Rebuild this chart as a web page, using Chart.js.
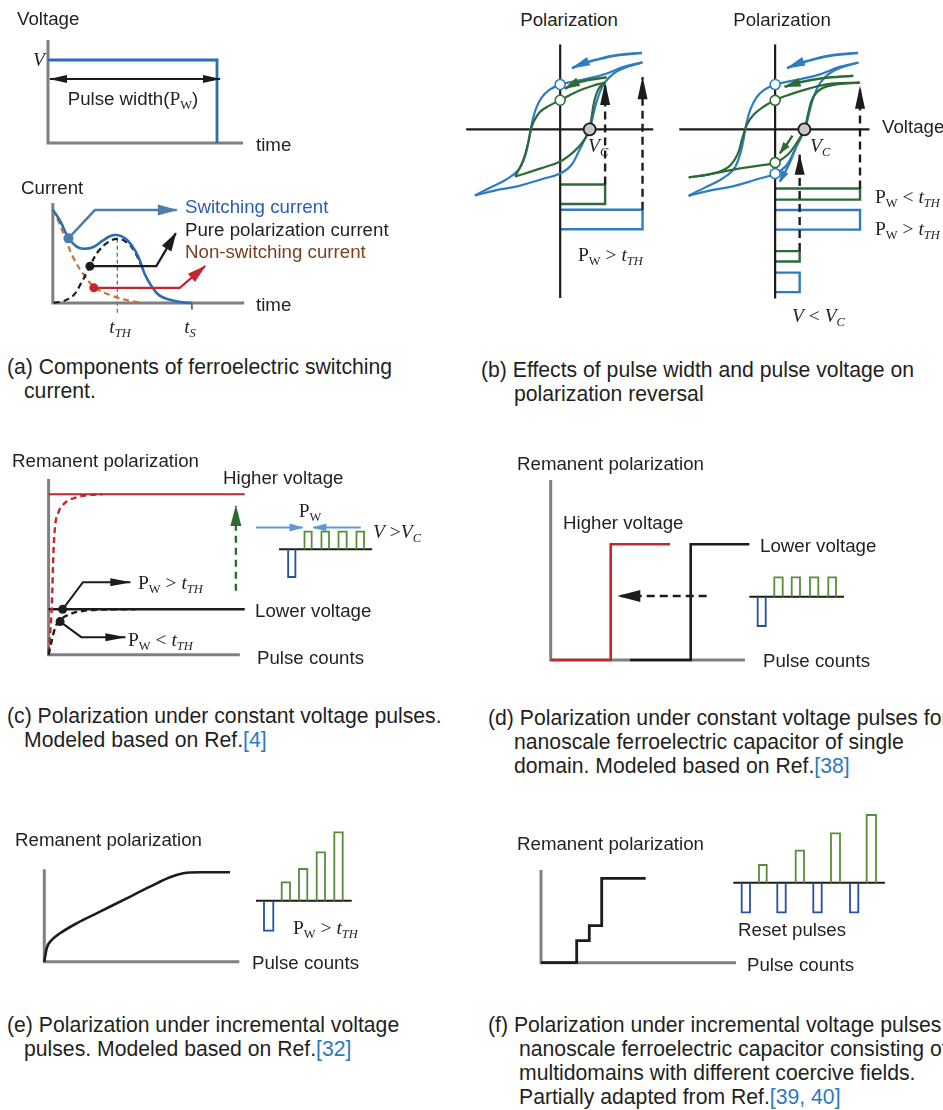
<!DOCTYPE html>
<html>
<head>
<meta charset="utf-8">
<title>Ferroelectric switching under voltage pulses</title>
<script src="https://cdn.jsdelivr.net/npm/chart.js@4.4.1/dist/chart.umd.min.js"></script>
<style>
  html, body { margin: 0; padding: 0; background: #fff; }
  #page { position: relative; width: 943px; height: 1110px; overflow: hidden;
          font-family: "Liberation Sans", Arial, sans-serif; color: #231f20; }
  #page canvas { position: absolute; }
  .t { position: absolute; white-space: nowrap; font-size: 18.7px; line-height: 1; transform: translateY(-50%); }
  .c { transform: translate(-50%, -50%); }
  .s { font-family: "Liberation Serif", "Times New Roman", serif; font-size: 19.5px; }
  .t sub { font-size: 0.64em; vertical-align: -0.32em; line-height: 0; }
  .cap { font-size: 21.2px; }
  .ref { color: #2f78c0; }
  .blue { color: #2a5db0; }
  .brown { color: #7b3f1d; }
</style>
</head>
<body>
<div id="page">
  <div id="plots"></div>

  <!-- (a) voltage pulse -->
  <div class="t" style="left:17px;top:19px">Voltage</div>
  <div class="t s" style="left:33px;top:60px"><i>V</i></div>
  <div class="t c" style="left:133px;top:99px">Pulse width(<span class="s">P<sub>W</sub></span>)</div>
  <div class="t" style="left:256px;top:145px">time</div>

  <!-- (a) current components -->
  <div class="t" style="left:21px;top:188px">Current</div>
  <div class="t blue" style="left:185px;top:207px">Switching current</div>
  <div class="t" style="left:185px;top:230px">Pure polarization current</div>
  <div class="t brown" style="left:185px;top:252px">Non-switching current</div>
  <div class="t" style="left:256px;top:305px">time</div>
  <div class="t s c" style="left:120px;top:327px"><i>t</i><sub><i>TH</i></sub></div>
  <div class="t s c" style="left:190px;top:327px"><i>t</i><sub><i>S</i></sub></div>

  <!-- (b) hysteresis loops -->
  <div class="t c" style="left:569px;top:20px">Polarization</div>
  <div class="t c" style="left:782px;top:20px">Polarization</div>
  <div class="t s" style="left:588px;top:146px"><i>V</i><sub><i>C</i></sub></div>
  <div class="t s" style="left:810px;top:146px"><i>V</i><sub><i>C</i></sub></div>
  <div class="t s" style="left:578px;top:255px">P<sub>W</sub> &gt; <i>t</i><sub><i>TH</i></sub></div>
  <div class="t s" style="left:875px;top:197px">P<sub>W</sub> &lt; <i>t</i><sub><i>TH</i></sub></div>
  <div class="t s" style="left:875px;top:229px">P<sub>W</sub> &gt; <i>t</i><sub><i>TH</i></sub></div>
  <div class="t s" style="left:792px;top:316px"><i>V</i> &lt; <i>V</i><sub><i>C</i></sub></div>
  <div class="t" style="left:882px;top:127px">Voltage</div>

  <!-- (c) -->
  <div class="t" style="left:12px;top:461px">Remanent polarization</div>
  <div class="t" style="left:223px;top:478px">Higher voltage</div>
  <div class="t" style="left:255px;top:611px">Lower voltage</div>
  <div class="t" style="left:257px;top:658px">Pulse counts</div>
  <div class="t s" style="left:138px;top:583px">P<sub>W</sub> &gt; <i>t</i><sub><i>TH</i></sub></div>
  <div class="t s" style="left:128px;top:640px">P<sub>W</sub> &lt; <i>t</i><sub><i>TH</i></sub></div>
  <div class="t s c" style="left:310px;top:511px">P<sub>W</sub></div>
  <div class="t s" style="left:373px;top:532px"><i>V</i> &gt;<i>V</i><sub><i>C</i></sub></div>

  <!-- (d) -->
  <div class="t" style="left:517px;top:464px">Remanent polarization</div>
  <div class="t" style="left:563px;top:523px">Higher voltage</div>
  <div class="t" style="left:760px;top:546px">Lower voltage</div>
  <div class="t" style="left:763px;top:661px">Pulse counts</div>

  <!-- (e) -->
  <div class="t" style="left:15px;top:840px">Remanent polarization</div>
  <div class="t s" style="left:293px;top:928px">P<sub>W</sub> &gt; <i>t</i><sub><i>TH</i></sub></div>
  <div class="t" style="left:252px;top:963px">Pulse counts</div>

  <!-- (f) -->
  <div class="t" style="left:517px;top:844px">Remanent polarization</div>
  <div class="t" style="left:738px;top:930px">Reset pulses</div>
  <div class="t" style="left:747px;top:965px">Pulse counts</div>

  <!-- captions -->
  <div class="t cap" style="left:7px;top:367px">(a) Components of ferroelectric switching</div>
  <div class="t cap" style="left:24px;top:391px">current.</div>
  <div class="t cap" style="left:481px;top:370px">(b) Effects of pulse width and pulse voltage on</div>
  <div class="t cap" style="left:514px;top:394px">polarization reversal</div>
  <div class="t cap" style="left:7px;top:716px">(c) Polarization under constant voltage pulses.</div>
  <div class="t cap" style="left:24px;top:740px">Modeled based on Ref.<span class="ref">[4]</span></div>
  <div class="t cap" style="left:488px;top:718px">(d) Polarization under constant voltage pulses for</div>
  <div class="t cap" style="left:514px;top:742px">nanoscale ferroelectric capacitor of single</div>
  <div class="t cap" style="left:514px;top:766px">domain. Modeled based on Ref.<span class="ref">[38]</span></div>
  <div class="t cap" style="left:7px;top:1025px">(e) Polarization under incremental voltage</div>
  <div class="t cap" style="left:24px;top:1049px">pulses. Modeled based on Ref.<span class="ref">[32]</span></div>
  <div class="t cap" style="left:488px;top:1025px">(f) Polarization under incremental voltage pulses for</div>
  <div class="t cap" style="left:519px;top:1049px">nanoscale ferroelectric capacitor consisting of</div>
  <div class="t cap" style="left:519px;top:1073px">multidomains with different coercive fields.</div>
  <div class="t cap" style="left:519px;top:1097px">Partially adapted from Ref.<span class="ref">[39, 40]</span></div>
</div>

<script>
// ---------------- data (arbitrary units, 1 unit = 10 px on every panel) ----------------

// (a) applied voltage pulse
const pulseTime = [0, 16.9, 16.9];
const pulseVolt = [8.3, 8.3, 0];
const widthArrowT = [0.2, 17.2];
const widthArrowV = [6.4, 6.4];

// (a) current components vs time
const swT  = [0, 0.8, 1.6, 2.4, 3.1, 4.1, 5.1, 5.9, 6.6, 7.4, 8.1, 8.8, 9.4, 10.1, 10.9, 12.1, 13.4, 14.3];
const swI  = [9.9, 8.6, 6.9, 6.0, 5.75, 5.9, 6.6, 7.1, 7.2, 6.85, 6.1, 4.8, 3.1, 1.8, 0.8, 0.3, 0.05, 0];
const polT = [0.1, 1.1, 2.1, 2.9, 3.8, 4.6, 5.6, 6.6, 7.6, 8.4, 9.1];
const polI = [0.03, 0.2, 0.8, 2.1, 3.9, 5.4, 6.4, 6.8, 6.4, 5.4, 3.9];
const nsT  = [0, 0.6, 1.3, 2.1, 3.1, 4.3, 6.1, 7.8, 9.1];
const nsI  = [9.9, 8.6, 6.8, 4.8, 3.1, 1.65, 0.75, 0.25, 0.03];
const swTagT  = [1.6, 4.3, 12.7],  swTagI  = [6.85, 9.85, 9.85];
const polTagT = [3.8, 10.6, 12.6], polTagI = [3.9, 3.9, 7.4];
const nsTagT  = [4.2, 13.0, 15.6], nsTagI  = [1.6, 1.6, 3.9];
const tTH = [6.6, 6.6], tTHLevel = [6.8, -1.2];
const tS  = [14.25, 14.25], tSLevel = [0, -0.7];

// (b) hysteresis loops (voltage, polarization)
const majUpV = [8.83, 6.83, 4.83, 2.83, 0.83, 0, -1.17, -2.0, -2.67, -3.1, -3.4, -3.83, -4.5, -5.83, -7.5, -9.17];
const majUpP = [7.07, 6.6, 5.84, 5.34, 4.94, 4.74, 4.17, 3.34, 2.0, 0.34, -1.33, -3.0, -4.33, -5.33, -6.16, -7.0];
const majLoV = [-9.17, -7.17, -4.5, -2.17, 0, 1.17, 2.0, 2.67, 3.17, 3.67, 4.17, 4.83, 6.17, 8.83];
const majLoP = [-7.0, -6.5, -6.0, -5.33, -4.66, -3.83, -2.33, -1.0, 0.0, 2.0, 3.67, 5.0, 6.17, 7.07];
const minUpV = [4.83, 3.5, 1.83, 0, -1.17, -2.17, -2.83, -3.17, -3.5, -4.0, -4.83];
const minUpP = [4.94, 4.6, 4.0, 3.07, 2.5, 1.84, 0.84, -0.16, -1.66, -3.33, -5.0];
const minLoV = [-4.83, -2.17, 0, 1.5, 2.67, 3.1, 3.33, 3.67, 4.17, 4.83];
const minLoP = [-5.0, -4.16, -3.4, -2.33, -1.0, 0, 1.0, 3.0, 4.34, 4.94];
const subUpV = [9.0, 6.0, 3.67, 1.0, 0, -1.33, -2.33, -3.0, -3.5, -4.0, -5.0, -6.66, -9.16];
const subUpP = [4.94, 4.84, 4.34, 3.5, 3.07, 2.34, 1.5, 0.5, -1.0, -2.66, -4.0, -4.66, -5.06];
const subLoV = [-9.16, -7.0, -4.0, -1.33, 0, 1.34, 2.34, 3.1, 3.5, 4.0, 5.0, 6.67, 9.0];
const subLoP = [-5.06, -4.73, -4.16, -3.76, -3.5, -2.66, -1.33, 0, 1.67, 3.34, 4.34, 4.77, 4.94];
const sweepBackV = [8.8, 6.17, 3.83, 2.17, 1.27], sweepBackP = [8.07, 7.84, 7.34, 6.84, 6.47];
const minBackV = [5.0, 3.0, 1.5, 0.5], minBackP = [5.5, 5.2, 4.8, 4.3];
const subBackV = [8.3, 5.0, 2.5, 1.0], subBackP = [5.67, 5.4, 4.95, 4.5];
const dropGV = [1.84, 1.27, 0.5], dropGP = [-0.66, -1.5, -2.5];
const dropBV = [2.17, 1.4, 0.5], dropBP = [-2.0, -3.83, -5.5];
const coerciveLeft = 3.17, coerciveRight = 3.1;
// applied pulses drawn on the polarization axis (voltage amplitude, band top, band bottom)
const bLeftAmp  = [4.83, 8.85],  bLeftTop  = [-5.83, -8.5],  bLeftBot  = [-7.9, -10.56];
const bLeftTip  = [4.9, 5.5];
const bRightAmp = [9.0, 9.0, 2.6, 2.6], bRightTop = [-6.23, -8.5, -12.83, -15.1], bRightBot = [-7.4, -10.56, -13.93, -17.16];
const bRightTip = [4.5, -2.66];

// (c) constant voltage pulses
const hiRiseN = [0, 0.33, 0.5, 0.67, 1.0, 1.67, 2.83, 4.17, 5.5];
const hiRiseP = [0.16, 5.16, 10.83, 13.5, 14.83, 15.83, 16.4, 16.66, 16.73];
const loRiseN = [0, 0.33, 0.67, 1.17, 2.17, 3.5, 5.5, 8.83];
const loRiseP = [0, 1.5, 2.83, 3.6, 4.23, 4.56, 4.7, 4.73];
const satN = [0, 20.0], satHiP = [16.73, 16.73], satLoP = [4.73, 4.73];
const cDotN = [1.43, 1.17], cDotP = [4.73, 3.45];
const tagHiN = [1.43, 3.5, 8.33], tagHiP = [4.73, 7.56, 7.56];
const tagLoN = [1.17, 3.33, 7.83], tagLoP = [3.45, 1.83, 1.83];
const raiseN = [19.1, 19.1], raiseP = [6.66, 15.5];
const cBaseN = [23.5, 33.0], cBaseLevel = 11.0;
const cResetL = [24.43], cResetR = [25.17], cResetLow = 8.1;
const cPulseL = [26.1, 27.83, 29.57, 31.4], cPulseR = [26.83, 28.6, 30.4, 32.17], cPulseTop = 12.83;
const pwLeftN = [21.17, 25.9], pwRightN = [31.83, 27.0], pwLevel = [13.26, 13.26];

// (d) single-domain capacitor
const hiStepN = [0, 6.0, 6.0, 11.93],   hiStepP = [0, 0, 11.57, 11.57];
const loStepN = [7.93, 14.0, 14.0, 19.86], loStepP = [0, 0, 11.57, 11.57];
const shiftN = [15.6, 6.76], shiftP = [6.4, 6.4];
const dBaseN = [19.86, 29.33], dBaseLevel = 6.33;
const dResetL = [20.7], dResetR = [21.5], dResetLow = 3.4;
const dPulseL = [22.36, 24.1, 25.93, 27.76], dPulseR = [23.2, 24.93, 26.76, 28.53], dPulseTop = 8.27;

// (e) incremental pulses, gradual response
const gradN = [0, 0.24, 0.74, 1.57, 3.24, 5.57, 8.24, 10.57, 12.57, 13.9, 15.57, 18.57];
const gradP = [0, 1.34, 2.17, 2.84, 3.84, 5.0, 6.34, 7.5, 8.44, 8.84, 8.94, 8.94];
const eBaseN = [21.17, 30.74], eBaseLevel = 6.1;
const eResetL = [21.97], eResetR = [22.9], eResetLow = 3.1;
const ePulseL = [23.74, 25.47, 27.24, 29.0], ePulseR = [24.57, 26.3, 28.07, 29.84];
const ePulseTop = [7.94, 9.27, 10.94, 12.94];

// (f) multidomain capacitor, stepwise response
const multiN = [0, 3.57, 3.57, 4.83, 4.83, 6.07, 6.07, 10.47];
const multiP = [0, 0, 2.2, 2.2, 3.7, 3.7, 8.44, 8.44];
const fBaseN = [19.23, 34.4], fBaseLevel = 8.0;
const fResetL = [20.07, 23.63, 27.23, 30.9], fResetR = [20.9, 24.47, 28.07, 31.73], fResetLow = 5.04;
const fPulseL = [21.8, 25.47, 29.0, 32.57], fPulseR = [22.57, 26.3, 29.9, 33.5];
const fPulseTop = [9.77, 11.2, 12.94, 14.77];

// axis lengths of each panel [x extent, y extent]
const axisA1 = [19.5, 10.3], axisA2 = [19.6, 10.6], axisC = [19.5, 18.33];
const axisD = [19.43, 18.0], axisE = [19.5, 9.24], axisF = [19.5, 9.27];
const bAxisV = [-10.1, 10.0], bAxisV2 = [-10.16, 10.0], bAxisP = [-17.83, 8.97];

// ---------------- styling ----------------
const PX = 10;
const GRAY = '#808080', INK = '#1c1c1c', LOOP_BLUE = '#2f7cc2', LOOP_GREEN = '#2c6b36';
const PULSE_BLUE = '#2a6db3', RED = '#c1272d', ORANGE = '#d0702f', STEEL = '#4b7ea8';
const TRAIN_GREEN = '#5a8c39', TRAIN_BLUE = '#2450a6', LIGHT_BLUE = '#5b9bd5', DARK_GREEN = '#2e6b30';

function pts(xs, ys) { return xs.map((x, i) => ({ x: x, y: ys[i] })); }
function path(xs, ys, color, width, opt) {
  return Object.assign({
    data: pts(xs, ys), showLine: true, borderColor: color, backgroundColor: color,
    borderWidth: width, pointRadius: 0, pointHoverRadius: 0, tension: 0, fill: false,
    clip: false, borderCapStyle: 'butt', borderJoinStyle: 'miter'
  }, opt || {});
}
function smooth(xs, ys, color, width, opt) { return path(xs, ys, color, width, Object.assign({ tension: 0.4 }, opt || {})); }
function mono(xs, ys, color, width, opt) { return path(xs, ys, color, width, Object.assign({ cubicInterpolationMode: 'monotone' }, opt || {})); }
function marks(xs, ys, r, fill, stroke, bw) {
  return { data: pts(xs, ys), showLine: false, pointRadius: r, pointHoverRadius: r,
           pointBackgroundColor: fill, pointBorderColor: stroke, pointBorderWidth: bw, clip: false };
}
function axesL(len) { return path([0, 0, len[0]], [len[1], 0, 0], GRAY, 3); }
// rectangular pulses: one open polyline per pulse, starting and ending on the base level
function pulses(L, R, base, level, color, width) {
  return L.map((l, i) => {
    const v = Array.isArray(level) ? level[i] : level;
    return path([l, l, R[i], R[i]], [base, v, v, base], color, width);
  });
}
// pulse bands hanging from the polarization axis in (b)
function bands(amp, top, bot, colors) {
  return amp.map((a, i) => path([0, a, a, 0], [top[i], top[i], bot[i], bot[i]], colors[i], 2.4));
}

// arrowheads drawn at the end (and optionally the start) of a dataset's path
const arrowheads = {
  id: 'arrowheads',
  afterDatasetDraw(chart, args) {
    const ds = chart.data.datasets[args.index];
    if (!ds.head) return;
    const p = args.meta.data, n = p.length, ctx = chart.ctx, h = ds.head;
    const tri = (tip, from) => {
      let dx = tip.x - from.x, dy = tip.y - from.y;
      const L = Math.hypot(dx, dy) || 1; dx /= L; dy /= L;
      const bx = tip.x - dx * h.len, by = tip.y - dy * h.len;
      const nx = -dy * h.w / 2, ny = dx * h.w / 2;
      ctx.beginPath(); ctx.moveTo(tip.x + dx, tip.y + dy);
      ctx.lineTo(bx + nx, by + ny); ctx.lineTo(bx - nx, by - ny); ctx.closePath(); ctx.fill();
    };
    ctx.save();
    ctx.fillStyle = h.color || ds.borderColor;
    if (h.end !== false) tri(p[n - 1], p[n - 2]);
    if (h.start) tri(p[0], p[1]);
    ctx.restore();
  }
};

function panel(box, origin, layers) {
  const cv = document.createElement('canvas');
  cv.width = box[2]; cv.height = box[3];
  cv.style.left = box[0] + 'px'; cv.style.top = box[1] + 'px';
  cv.style.width = box[2] + 'px'; cv.style.height = box[3] + 'px';
  document.getElementById('plots').appendChild(cv);
  layers.forEach((d, i) => { d.order = -i; });
  return new Chart(cv, {
    type: 'scatter',
    data: { datasets: layers },
    options: {
      responsive: false, animation: false, devicePixelRatio: 1, events: [],
      layout: { padding: 0 },
      plugins: { legend: { display: false }, tooltip: { enabled: false }, title: { display: false } },
      scales: {
        x: { type: 'linear', display: false, bounds: 'data',
             min: (box[0] - origin[0]) / PX, max: (box[0] + box[2] - origin[0]) / PX },
        y: { type: 'linear', display: false, bounds: 'data',
             min: (origin[1] - box[1] - box[3]) / PX, max: (origin[1] - box[1]) / PX }
      }
    },
    plugins: [arrowheads]
  });
}

// ---------------- panels ----------------

// (a) voltage pulse
panel([0, 0, 300, 160], [48, 143], [
  axesL(axisA1),
  path(pulseTime, pulseVolt, PULSE_BLUE, 2.8),
  path(widthArrowT, widthArrowV, INK, 2.2, { head: { len: 17, w: 8, start: true } })
]);

// (a) current components
panel([0, 165, 420, 175], [49, 306], [
  path(tTH, tTHLevel, DARK_GREEN, 1.1, { borderDash: [4, 3] }),
  path(tS, tSLevel, INK, 1.2),
  axesL(axisA2),
  smooth(nsT, nsI, ORANGE, 2.2, { borderDash: [6, 4] }),
  smooth(polT, polI, INK, 2.2, { borderDash: [6, 4] }),
  smooth(swT, swI, PULSE_BLUE, 2.6),
  path(swTagT, swTagI, STEEL, 2.4, { head: { len: 19, w: 11 } }),
  path(polTagT, polTagI, INK, 2.2, { head: { len: 18, w: 11 } }),
  path(nsTagT, nsTagI, RED, 2.2, { head: { len: 18, w: 11 } }),
  marks([swTagT[0]], [swTagI[0]], 5, STEEL, STEEL, 0),
  marks([polTagT[0]], [polTagI[0]], 4.5, INK, INK, 0),
  marks([nsTagT[0]], [nsTagI[0]], 4.5, RED, RED, 0)
]);

// (b) left: pulse width effect
panel([450, 30, 225, 290], [560, 126.7], [
  ...bands(bLeftAmp, bLeftTop, bLeftBot, [LOOP_GREEN, LOOP_BLUE]),
  path([bLeftAmp[0], bLeftAmp[0]], [bLeftTop[0], bLeftTip[0]], INK, 2.4, { borderDash: [8, 5], head: { len: 22, w: 10 } }),
  path([bLeftAmp[1], bLeftAmp[1]], [bLeftTop[1], bLeftTip[1]], INK, 2.4, { borderDash: [8, 5], head: { len: 22, w: 10 } }),
  path(bAxisV, [0, 0], INK, 2.2),
  path([0, 0], bAxisP, INK, 2.2),
  smooth(majUpV, majUpP, LOOP_BLUE, 2.2),
  smooth(majLoV, majLoP, LOOP_BLUE, 2.2),
  smooth(minUpV, minUpP, LOOP_GREEN, 2.2),
  smooth(minLoV, minLoP, LOOP_GREEN, 2.2),
  smooth(sweepBackV, sweepBackP, LOOP_BLUE, 2.6, { head: { len: 18, w: 9 } }),
  smooth(minBackV, minBackP, LOOP_GREEN, 2.6, { head: { len: 15, w: 9 } }),
  marks([0], [majUpP[5]], 5, '#fff', LOOP_BLUE, 1.6),
  marks([0], [minUpP[3]], 5, '#fff', LOOP_GREEN, 1.6),
  marks([coerciveLeft], [0], 6, '#c8c8c8', INK, 1.8)
]);

// (b) right: pulse voltage effect
panel([668, 30, 275, 300], [773.3, 126.7], [
  ...bands(bRightAmp, bRightTop, bRightBot, [LOOP_GREEN, LOOP_BLUE, LOOP_GREEN, LOOP_BLUE]),
  path([bRightAmp[0], bRightAmp[0]], [bRightTop[0], bRightTip[0]], INK, 2.4, { borderDash: [8, 5], head: { len: 22, w: 10 } }),
  path([bRightAmp[2], bRightAmp[2]], [bRightTop[2], bRightTip[1]], INK, 2.4, { borderDash: [8, 5], head: { len: 20, w: 10 } }),
  path(bAxisV2, [0, 0], INK, 2.2),
  path([0, 0], bAxisP, INK, 2.2),
  smooth(majUpV, majUpP, LOOP_BLUE, 2.2),
  smooth(majLoV, majLoP, LOOP_BLUE, 2.2),
  smooth(subUpV, subUpP, LOOP_GREEN, 2.2),
  smooth(subLoV, subLoP, LOOP_GREEN, 2.2),
  smooth(sweepBackV, sweepBackP, LOOP_BLUE, 2.6, { head: { len: 18, w: 9 } }),
  smooth(subBackV, subBackP, LOOP_GREEN, 2.6, { head: { len: 16, w: 9 } }),
  smooth(dropGV, dropGP, LOOP_GREEN, 2.4, { head: { len: 11, w: 8 } }),
  smooth(dropBV, dropBP, LOOP_BLUE, 2.4, { head: { len: 11, w: 8 } }),
  marks([0, 0], [majUpP[5], majLoP[4]], 5, '#fff', LOOP_BLUE, 1.6),
  marks([0, 0], [subUpP[4], subLoP[4]], 5, '#fff', LOOP_GREEN, 1.6),
  marks([coerciveRight], [0], 6, '#c8c8c8', INK, 1.8)
]);

// (c) constant voltage pulses
panel([0, 460, 460, 220], [45, 658.3], [
  axesL(axisC),
  path(satN, satHiP, RED, 2.0),
  path(satN, satLoP, INK, 2.4),
  mono(hiRiseN, hiRiseP, RED, 2.4, { borderDash: [6, 4] }),
  mono(loRiseN, loRiseP, INK, 2.4, { borderDash: [6, 4] }),
  path(tagHiN, tagHiP, INK, 2.0, { head: { len: 20, w: 8 } }),
  path(tagLoN, tagLoP, INK, 2.0, { head: { len: 20, w: 8 } }),
  marks(cDotN, cDotP, 4.5, INK, INK, 0),
  path(raiseN, raiseP, DARK_GREEN, 2.4, { borderDash: [7, 5], head: { len: 20, w: 11 } }),
  path(cBaseN, [cBaseLevel, cBaseLevel], INK, 2.0),
  ...pulses(cResetL, cResetR, cBaseLevel, cResetLow, TRAIN_BLUE, 1.8),
  ...pulses(cPulseL, cPulseR, cBaseLevel, cPulseTop, TRAIN_GREEN, 1.8),
  path(pwLeftN, pwLevel, LIGHT_BLUE, 2.2, { head: { len: 13, w: 8 } }),
  path(pwRightN, pwLevel, LIGHT_BLUE, 2.2, { head: { len: 13, w: 8 } })
]);

// (d) single-domain capacitor
panel([500, 470, 443, 210], [550.7, 660], [
  axesL(axisD),
  path(hiStepN, hiStepP, RED, 2.6),
  path(loStepN, loStepP, INK, 2.6),
  path(shiftN, shiftP, INK, 2.4, { borderDash: [8, 5], head: { len: 22, w: 12 } }),
  path(dBaseN, [dBaseLevel, dBaseLevel], INK, 2.0),
  ...pulses(dResetL, dResetR, dBaseLevel, dResetLow, TRAIN_BLUE, 1.8),
  ...pulses(dPulseL, dPulseR, dBaseLevel, dPulseTop, TRAIN_GREEN, 1.8)
]);

// (e) incremental pulses
panel([0, 820, 460, 160], [44.3, 961.7], [
  axesL(axisE),
  mono(gradN, gradP, INK, 2.6),
  path(eBaseN, [eBaseLevel, eBaseLevel], INK, 2.0),
  ...pulses(eResetL, eResetR, eBaseLevel, eResetLow, TRAIN_BLUE, 1.8),
  ...pulses(ePulseL, ePulseR, eBaseLevel, ePulseTop, TRAIN_GREEN, 1.8)
]);

// (f) multidomain capacitor
panel([500, 800, 443, 180], [541, 962.7], [
  axesL(axisF),
  path(multiN, multiP, INK, 2.8),
  path(fBaseN, [fBaseLevel, fBaseLevel], INK, 2.0),
  ...pulses(fResetL, fResetR, fBaseLevel, fResetLow, TRAIN_BLUE, 1.8),
  ...pulses(fPulseL, fPulseR, fBaseLevel, fPulseTop, TRAIN_GREEN, 1.8)
]);
</script>
</body>
</html>
